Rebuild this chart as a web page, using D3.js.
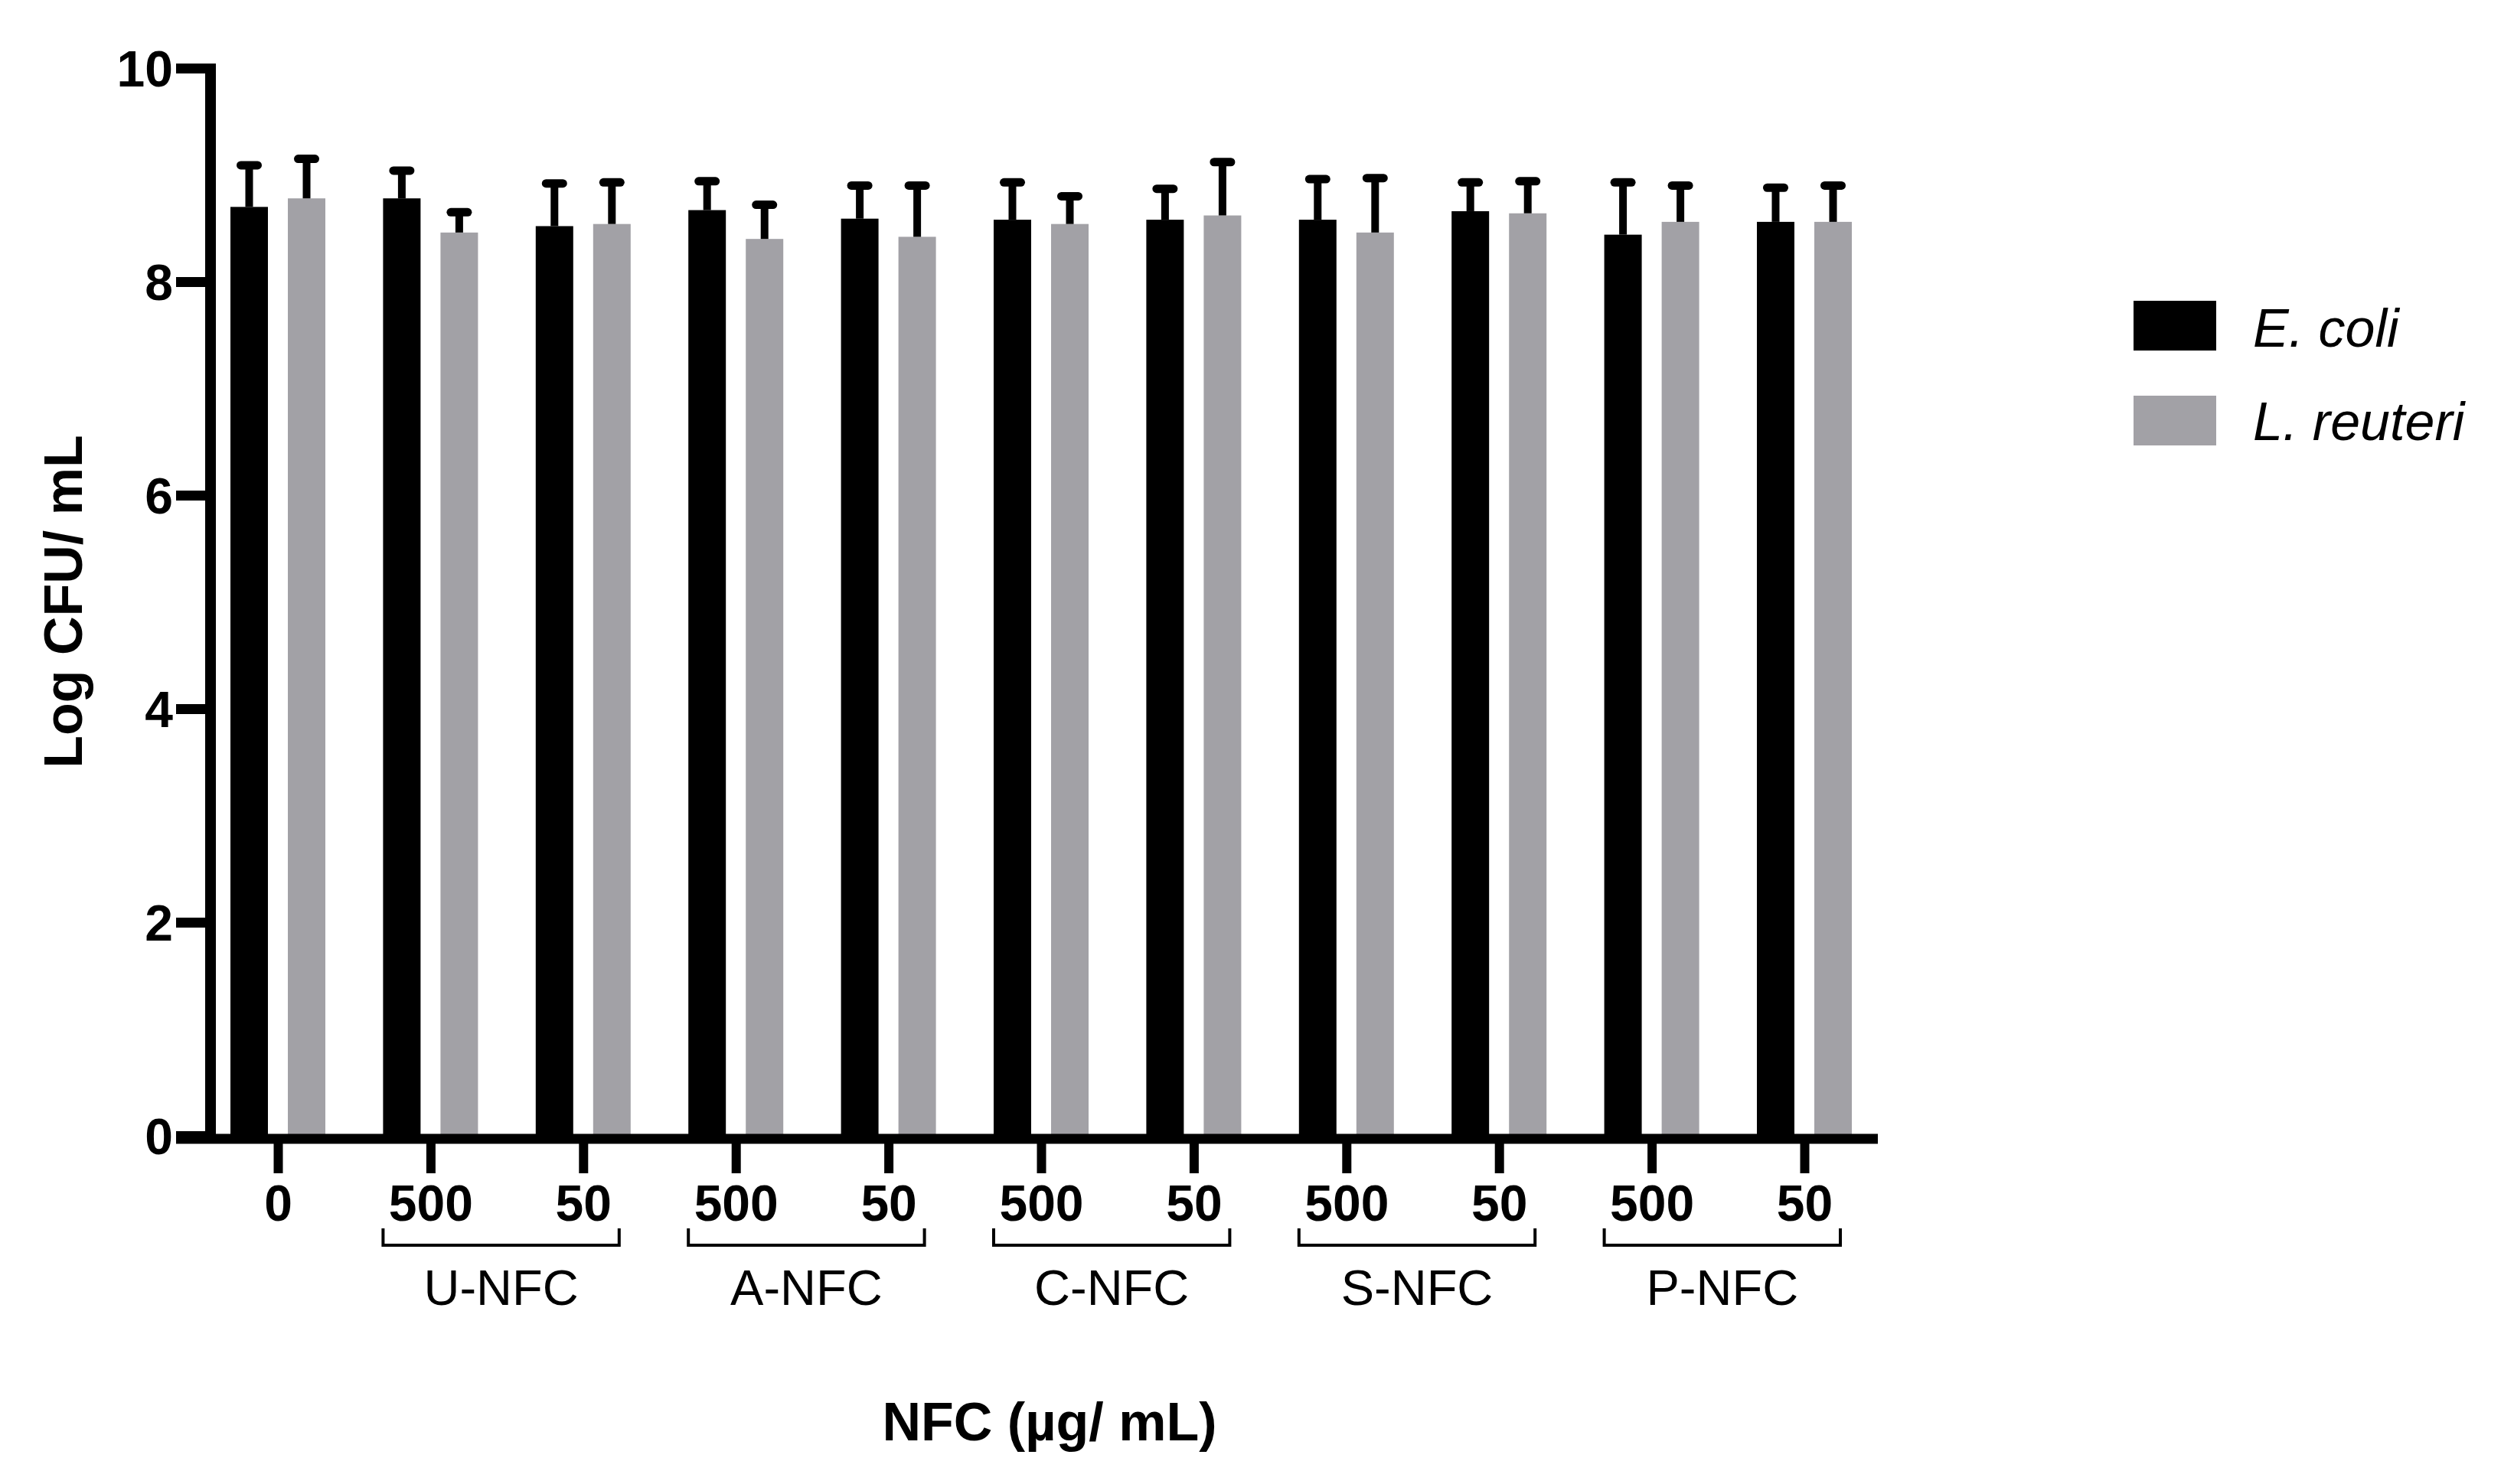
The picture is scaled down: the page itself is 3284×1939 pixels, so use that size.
<!DOCTYPE html>
<html>
<head>
<meta charset="utf-8">
<script src="https://cdn.jsdelivr.net/npm/d3@7/dist/d3.min.js"></script>
<style>
  html, body { margin: 0; padding: 0; background: #fff; }
  svg { display: block; }
  text { font-family: "Liberation Sans", Arial, Helvetica, sans-serif; fill: #000; }
</style>
</head>
<body>
<svg id="chart" width="3284" height="1939"></svg>
<script>
// ---------------- data ----------------
const categories = ["0", "U-500", "U-50", "A-500", "A-50", "C-500", "C-50", "S-500", "S-50", "P-500", "P-50"];
const tickLabels = ["0", "500", "50", "500", "50", "500", "50", "500", "50", "500", "50"];
const groupLabels = ["U-NFC", "A-NFC", "C-NFC", "S-NFC", "P-NFC"];
const groupMembers = [["U-500", "U-50"], ["A-500", "A-50"], ["C-500", "C-50"], ["S-500", "S-50"], ["P-500", "P-50"]];
const seriesNames = ["E. coli", "L. reuteri"];
const ecoliMean = [8.70, 8.78, 8.52, 8.67, 8.59, 8.58, 8.58, 8.58, 8.66, 8.44, 8.56];
const ecoliSD   = [0.39, 0.26, 0.40, 0.27, 0.31, 0.35, 0.29, 0.38, 0.27, 0.49, 0.32];
const reuteriMean = [8.78, 8.46, 8.54, 8.40, 8.42, 8.54, 8.62, 8.46, 8.64, 8.56, 8.56];
const reuteriSD   = [0.37, 0.19, 0.39, 0.32, 0.48, 0.26, 0.50, 0.51, 0.30, 0.34, 0.34];
const yTicks = [0, 2, 4, 6, 8, 10];
const yTitle = "Log CFU/ mL";
const xTitle = "NFC (\u00B5g/ mL)";
const colors = ["#000000", "#a2a1a6"];

// ---------------- layout ----------------
const svg = d3.select("#chart");
const y = d3.scaleLinear().domain([0, 10]).range([1484, 89]);
const x = d3.scalePoint().domain(categories).range([363, 2357]);
const xSub = d3.scaleBand().domain(seriesNames).range([-62, 62]).paddingInner(0.347);
const color = d3.scaleOrdinal().domain(seriesNames).range(colors);

const rows = [];
categories.forEach((c, i) => {
  rows.push({cat: c, series: seriesNames[0], v: ecoliMean[i], sd: ecoliSD[i]});
  rows.push({cat: c, series: seriesNames[1], v: reuteriMean[i], sd: reuteriSD[i]});
});

// bars
svg.append("g").selectAll("rect").data(rows).join("rect")
  .attr("x", d => x(d.cat) + xSub(d.series))
  .attr("width", xSub.bandwidth())
  .attr("y", d => y(d.v))
  .attr("height", d => y(0) - y(d.v))
  .attr("fill", d => color(d.series));

// error bars (upper only)
const eb = svg.append("g").attr("stroke", "#000");
eb.selectAll("line.v").data(rows).join("line").attr("class", "v")
  .attr("x1", d => x(d.cat) + xSub(d.series) + xSub.bandwidth() / 2)
  .attr("x2", d => x(d.cat) + xSub(d.series) + xSub.bandwidth() / 2)
  .attr("y1", d => y(d.v))
  .attr("y2", d => y(d.v + d.sd))
  .attr("stroke-width", 10);
eb.selectAll("line.c").data(rows).join("line").attr("class", "c")
  .attr("x1", d => x(d.cat) + xSub(d.series) + xSub.bandwidth() / 2 - 11)
  .attr("x2", d => x(d.cat) + xSub(d.series) + xSub.bandwidth() / 2 + 11)
  .attr("y1", d => y(d.v + d.sd))
  .attr("y2", d => y(d.v + d.sd))
  .attr("stroke-width", 11)
  .attr("stroke-linecap", "round");

// y axis
const yAxisG = svg.append("g").attr("transform", "translate(268,0)")
  .call(d3.axisLeft(y).tickValues(yTicks).tickSize(38).tickPadding(4).tickFormat(d3.format("d")));
yAxisG.select(".domain").remove();
yAxisG.selectAll(".tick line").attr("stroke", "#000").attr("stroke-width", 13);
yAxisG.selectAll(".tick text")
  .attr("font-family", "Liberation Sans, Arial, sans-serif")
  .attr("font-size", 66).attr("font-weight", "bold").attr("dy", "0.36em");

// x axis
const xAxisG = svg.append("g").attr("transform", "translate(0,1494)")
  .call(d3.axisBottom(x).tickSize(39).tickFormat((d, i) => tickLabels[i]));
xAxisG.select(".domain").remove();
xAxisG.selectAll(".tick line").attr("stroke", "#000").attr("stroke-width", 12);
xAxisG.selectAll(".tick text")
  .attr("font-family", "Liberation Sans, Arial, sans-serif")
  .attr("font-size", 66).attr("font-weight", "bold")
  .attr("y", 101).attr("dy", 0);

// axis lines
svg.append("line").attr("x1", 275).attr("x2", 275).attr("y1", 83).attr("y2", 1494)
  .attr("stroke", "#000").attr("stroke-width", 14);
svg.append("line").attr("x1", 230).attr("x2", 2453).attr("y1", y(0) + 4).attr("y2", y(0) + 4)
  .attr("stroke", "#000").attr("stroke-width", 13);

// group brackets
const br = svg.append("g");
groupMembers.forEach((m, gi) => {
  const x0 = x(m[0]) - 62, x1 = x(m[1]) + 47;
  br.append("path")
    .attr("d", `M${x0},1605V1627H${x1}V1605`)
    .attr("fill", "none").attr("stroke", "#000").attr("stroke-width", 4);
  br.append("text")
    .attr("x", (x0 + x1) / 2).attr("y", 1705)
    .attr("text-anchor", "middle").attr("font-size", 65)
    .text(groupLabels[gi]);
});

// axis titles
svg.append("text")
  .attr("transform", "translate(107,786) rotate(-90)")
  .attr("text-anchor", "middle").attr("font-size", 70).attr("font-weight", "bold")
  .text(yTitle);
svg.append("text")
  .attr("x", 1371).attr("y", 1882)
  .attr("text-anchor", "middle").attr("font-size", 70).attr("font-weight", "bold")
  .text(xTitle);

// legend
const lg = svg.append("g");
seriesNames.forEach((s, i) => {
  lg.append("rect").attr("x", 2787).attr("y", 393 + i * 124).attr("width", 108).attr("height", 65)
    .attr("fill", color(s));
  lg.append("text").attr("x", 2943).attr("y", 453 + i * 122)
    .attr("font-size", 70).attr("font-style", "italic").text(s);
});
</script>
</body>
</html>
